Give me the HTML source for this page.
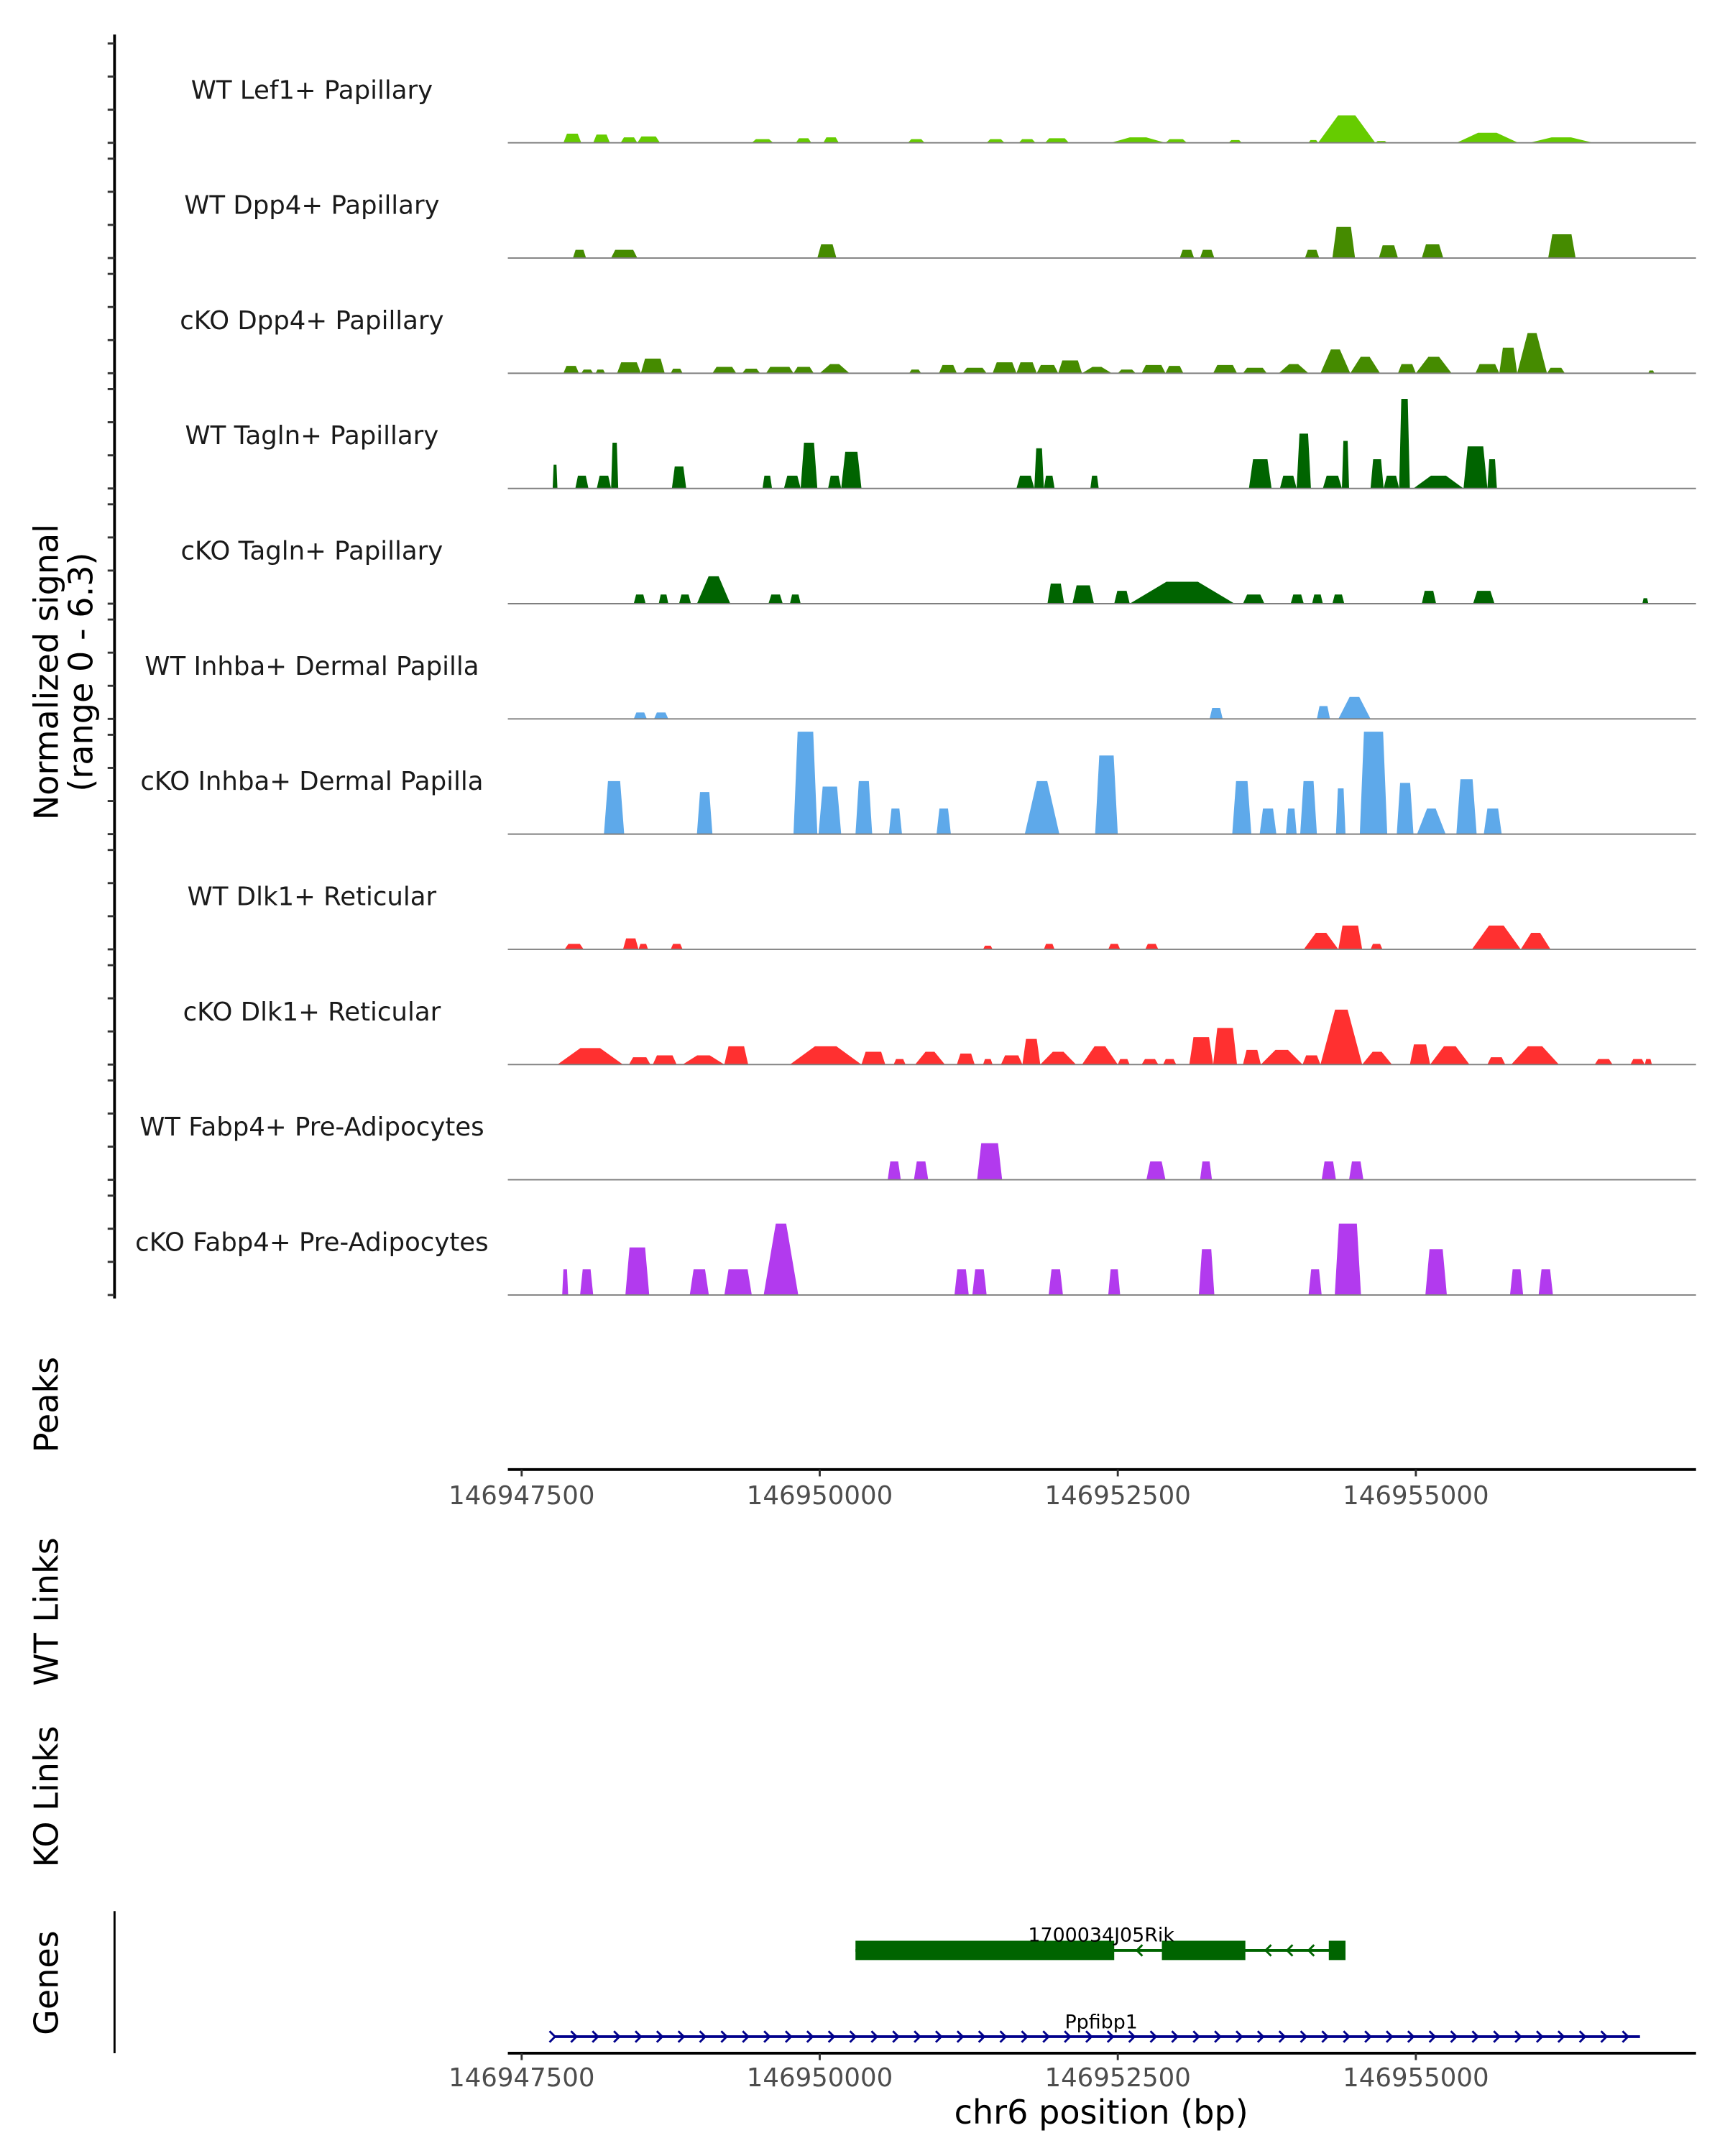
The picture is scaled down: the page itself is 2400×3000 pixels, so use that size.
<!DOCTYPE html>
<html><head><meta charset="utf-8"><style>
html,body{margin:0;padding:0;background:#fff;}
svg{display:block;font-family:"DejaVu Sans","Liberation Sans",sans-serif;}
</style></head><body>
<svg id="chart" width="2400" height="3000" viewBox="0 0 1250 1562.5" xmlns="http://www.w3.org/2000/svg">
<g id="tracks"></g>
<g id="yaxis"></g>
<text transform="translate(42,487) rotate(-90)" text-anchor="middle" font-size="24">Normalized signal</text>
<text transform="translate(67,487) rotate(-90)" text-anchor="middle" font-size="24">(range 0 - 6.3)</text>
<text transform="translate(42,1018) rotate(-90)" text-anchor="middle" font-size="24">Peaks</text>
<text transform="translate(42,1168) rotate(-90)" text-anchor="middle" font-size="24">WT Links</text>
<text transform="translate(42,1302) rotate(-90)" text-anchor="middle" font-size="24">KO Links</text>
<text transform="translate(42,1437) rotate(-90)" text-anchor="middle" font-size="24">Genes</text>
<line x1="83" y1="1385" x2="83" y2="1488" stroke="#000" stroke-width="1.5"/>
<g id="xaxes"></g>
<g id="genes"></g>
<text x="798" y="1539" text-anchor="middle" font-size="24">chr6 position (bp)</text>
</svg>
<script>
// data (positions in kb after 146940000; heights in normalized signal)
const trackNames = ["WT Lef1+ Papillary","WT Dpp4+ Papillary","cKO Dpp4+ Papillary","WT Tagln+ Papillary","cKO Tagln+ Papillary","WT Inhba+ Dermal Papilla","cKO Inhba+ Dermal Papilla","WT Dlk1+ Reticular","cKO Dlk1+ Reticular","WT Fabp4+ Pre-Adipocytes","cKO Fabp4+ Pre-Adipocytes"];
const trackColors = ["#66CC00","#458B00","#458B00","#006400","#006400","#5EA9EA","#5EA9EA","#FF3030","#FF3030","#B23AEE","#B23AEE"];
const lef1WT = [[7.85,8.00,0.5],[8.10,8.24,0.45],[8.33,8.47,0.3],[8.47,8.66,0.35],[9.43,9.61,0.2],[9.80,9.93,0.25],[10.03,10.16,0.3],[10.74,10.88,0.2],[11.40,11.55,0.2],[11.67,11.81,0.2],[11.89,12.09,0.25],[12.44,12.90,0.3],[12.90,13.08,0.2],[13.43,13.54,0.15],[14.10,14.18,0.15],[14.18,14.66,1.5],[14.66,14.76,0.1],[15.34,15.86,0.55],[15.95,16.49,0.3]];
const dpp4WT = [[7.93,8.04,0.45],[8.25,8.47,0.45],[9.98,10.14,0.75],[13.02,13.14,0.45],[13.19,13.31,0.45],[14.07,14.19,0.45],[14.30,14.49,1.7],[14.69,14.85,0.7],[15.05,15.23,0.75],[16.11,16.34,1.3]];
const dpp4KO = [[7.85,7.98,0.4],[8.0,8.1,0.2],[8.12,8.2,0.2],[8.3,8.5,0.6],[8.5,8.7,0.8],[8.75,8.85,0.25],[9.1,9.3,0.35],[9.35,9.5,0.25],[9.55,9.78,0.35],[9.78,9.95,0.35],[10.0,10.25,0.5],[10.75,10.85,0.2],[11.0,11.15,0.45],[11.2,11.4,0.3],[11.45,11.65,0.6],[11.65,11.82,0.6],[11.82,12.0,0.45],[12.0,12.2,0.7],[12.2,12.45,0.35],[12.5,12.65,0.2],[12.7,12.9,0.45],[12.9,13.05,0.4],[13.3,13.5,0.45],[13.55,13.75,0.3],[13.85,14.1,0.5],[14.2,14.45,1.3],[14.45,14.7,0.9],[14.85,15.0,0.5],[15.0,15.3,0.9],[15.5,15.7,0.5],[15.7,15.85,1.4],[15.85,16.1,2.2],[16.1,16.25,0.3],[16.95,17.0,0.15]];
const taglnWT = [[7.76,7.80,1.3],[7.95,8.06,0.7],[8.13,8.25,0.7],[8.25,8.31,2.5],[8.76,8.88,1.2],[9.52,9.60,0.7],[9.70,9.84,0.7],[9.84,9.98,2.5],[10.07,10.18,0.7],[10.18,10.35,2.0],[11.65,11.80,0.7],[11.80,11.88,2.2],[11.88,11.97,0.7],[12.27,12.34,0.7],[13.60,13.79,1.6],[13.86,14.00,0.7],[14.00,14.12,3.0],[14.22,14.38,0.7],[14.38,14.44,2.6],[14.62,14.73,1.6],[14.73,14.86,0.7],[14.86,14.95,4.9],[14.98,15.40,0.7],[15.40,15.60,2.3],[15.60,15.68,1.6]];
const taglnKO = [[8.44,8.54,0.5],[8.65,8.73,0.5],[8.82,8.92,0.5],[8.97,9.25,1.5],[9.57,9.69,0.5],[9.75,9.84,0.5],[11.91,12.05,1.1],[12.12,12.30,1.0],[12.47,12.60,0.7],[12.60,13.48,1.2],[13.55,13.73,0.5],[13.95,14.06,0.5],[14.13,14.22,0.5],[14.30,14.40,0.5],[15.05,15.17,0.7],[15.48,15.66,0.7],[16.90,16.95,0.3]];
const inhbaWT = [[8.44,8.55,0.35],[8.61,8.73,0.35],[13.27,13.38,0.6],[14.17,14.28,0.7],[14.35,14.62,1.2]];
const inhbaKO = [[8.19,8.36,2.9],[8.97,9.10,2.3],[9.78,9.98,5.6],[9.99,10.18,2.6],[10.30,10.44,2.9],[10.58,10.69,1.4],[10.98,11.10,1.4],[11.72,12.01,2.9],[12.31,12.50,4.3],[13.46,13.62,2.9],[13.69,13.83,1.4],[13.91,14.00,1.4],[14.03,14.17,2.9],[14.33,14.41,2.5],[14.53,14.76,5.6],[14.84,14.98,2.8],[15.01,15.25,1.4],[15.34,15.51,3.0],[15.57,15.72,1.4]];
const dlk1WT = [[7.86,8.02,0.3],[8.35,8.48,0.6],[8.48,8.56,0.3],[8.75,8.85,0.3],[11.37,11.45,0.2],[11.88,11.97,0.3],[12.42,12.52,0.3],[12.73,12.84,0.3],[14.06,14.35,0.9],[14.35,14.55,1.3],[14.62,14.72,0.3],[15.47,15.88,1.3],[15.88,16.13,0.9]];
const dlk1KO = [[7.8,8.35,0.9],[8.4,8.58,0.4],[8.6,8.8,0.5],[8.85,9.2,0.5],[9.2,9.4,1.0],[9.75,10.35,1.0],[10.35,10.55,0.7],[10.62,10.72,0.3],[10.80,11.05,0.7],[11.15,11.3,0.6],[11.37,11.45,0.3],[11.52,11.7,0.5],[11.7,11.85,1.4],[11.85,12.15,0.7],[12.2,12.5,1.0],[12.5,12.6,0.3],[12.7,12.84,0.3],[12.88,12.99,0.3],[13.1,13.3,1.5],[13.3,13.5,2.0],[13.55,13.7,0.8],[13.7,14.05,0.8],[14.05,14.2,0.5],[14.2,14.55,3.0],[14.55,14.8,0.7],[14.95,15.12,1.1],[15.12,15.45,1.0],[15.6,15.75,0.4],[15.8,16.2,1.0],[16.5,16.65,0.3],[16.8,16.92,0.3],[16.92,16.98,0.3]];
const fabp4WT = [[10.57,10.68,1.0],[10.79,10.91,1.0],[11.32,11.53,2.0],[12.74,12.90,1.0],[13.19,13.29,1.0],[14.21,14.33,1.0],[14.44,14.56,1.0]];
const fabp4KO = [[7.84,7.89,1.4],[7.99,8.10,1.4],[8.37,8.57,2.6],[8.91,9.07,1.4],[9.20,9.43,1.4],[9.53,9.82,3.9],[11.13,11.25,1.4],[11.28,11.40,1.4],[11.92,12.04,1.4],[12.42,12.52,1.4],[13.18,13.31,2.5],[14.10,14.21,1.4],[14.32,14.54,3.9],[15.08,15.26,2.5],[15.79,15.90,1.4],[16.03,16.15,1.4]];
const trackData = [lef1WT,dpp4WT,dpp4KO,taglnWT,taglnKO,inhbaWT,inhbaKO,dlk1WT,dlk1KO,fabp4WT,fabp4KO];
const xTicks = [146947500,146950000,146952500,146955000];
const geneRik = [[10.30,12.47],[12.87,13.57],[14.27,14.41]];
const geneRikSpan = [10.30,14.41];
const genePpf = [7.78,16.88];
const maxSignal = 6.3;

const NS="http://www.w3.org/2000/svg";
const BASE=146940000;
const X0=368,X1=1229,BP0=146947384,BP1=146957350;
function xs(bp){return X0+(bp-BP0)/(BP1-BP0)*(X1-X0);}
function xk(kb){return xs(BASE+kb*1000);}
const TRACK_H=83.5, FIRST_BASE=103.5;
function baseY(i){return FIRST_BASE+i*TRACK_H;}
function ys(v,i){return baseY(i)-v/maxSignal*TRACK_H;}
function mk(tag,attrs,parent){const e=document.createElementNS(NS,tag);for(const k in attrs)e.setAttribute(k,attrs[k]);parent.appendChild(e);return e;}

const tg=document.getElementById('tracks');
trackData.forEach((peaks,i)=>{
  const g=mk('g',{},tg);
  
  
  const lab=mk('text',{x:226,y:baseY(i)-32,'text-anchor':'middle','font-size':18.5,fill:'#1a1a1a'},g);
  lab.textContent=trackNames[i];
  
  
  peaks.forEach(p=>{
    const a=xk(p[0]),b=xk(p[1]),w=b-a,y0=baseY(i),y1=ys(p[2],i);
    const r=w>20?w*0.35:Math.min(w*0.2,3);
    const pg=mk('polygon',{points:`${a},${y0} ${a+r},${y1} ${b-r},${y1} ${b},${y0}`,fill:trackColors[i]},g);
    
    
  });
  const bl=mk('line',{x1:X0,x2:X1,y1:baseY(i),y2:baseY(i),stroke:'#7f7f7f','stroke-width':1},g);
  
  
});

const ya=document.getElementById('yaxis');
const al=mk('line',{x1:83,x2:83,y1:25,y2:941,stroke:'#000','stroke-width':2},ya);


for(let i=0;i<trackData.length;i++){
  for(let k=0;k<4;k++){
    const y=baseY(i)-k*24;
    const t=mk('line',{x1:78,x2:83,y1:y,y2:y,stroke:'#333','stroke-width':1.5},ya);
    
    
  }
}

const xa=document.getElementById('xaxes');
[[1065,1090],[1488,1512]].forEach(([ly,ty],j)=>{
  const l=mk('line',{x1:X0,x2:X1,y1:ly,y2:ly,stroke:'#000','stroke-width':2},xa);
  
  
  xTicks.forEach(v=>{
    const t=mk('line',{x1:xs(v),x2:xs(v),y1:ly,y2:ly+5,stroke:'#333','stroke-width':1.5},xa);
    
    
    const tx=mk('text',{x:xs(v),y:ty,'text-anchor':'middle','font-size':18.5,fill:'#4d4d4d'},xa);
    tx.textContent=String(v);
    
    
  });
});

const gg=document.getElementById('genes');
const gy=1413.5;
const rl=mk('line',{x1:xk(geneRikSpan[0]),x2:xk(geneRikSpan[1]),y1:gy,y2:gy,stroke:'#006400','stroke-width':2},gg);


geneRik.forEach(e=>{
  const r=mk('rect',{x:xk(e[0]),y:gy-7,width:xk(e[1])-xk(e[0]),height:14,fill:'#006400'},gg);
  
  
});
for(let kb=geneRikSpan[0]+0.2;kb<geneRikSpan[1];kb+=0.18){
  if(geneRik.some(e=>kb>=e[0]-0.05&&kb<=e[1]+0.05))continue;
  const x=xk(kb);
  const a=mk('polyline',{points:`${x+4},${gy-4} ${x},${gy} ${x+4},${gy+4}`,fill:'none',stroke:'#006400','stroke-width':1.5},gg);
  
  
}
const rt=mk('text',{x:798,y:1407,'text-anchor':'middle','font-size':14},gg);
rt.textContent='1700034J05Rik';


const py=1476;
const pl=mk('line',{x1:xk(genePpf[0]),x2:xk(genePpf[1]),y1:py,y2:py,stroke:'#00008B','stroke-width':2},gg);


for(let kb=genePpf[0];kb<=genePpf[1]+0.01;kb+=0.18){
  const x=xk(kb);
  const a=mk('polyline',{points:`${x-4},${py-4} ${x},${py} ${x-4},${py+4}`,fill:'none',stroke:'#00008B','stroke-width':1.5},gg);
  
  
}
const pt=mk('text',{x:798,y:1470,'text-anchor':'middle','font-size':14},gg);
pt.textContent='Ppfibp1';


</script>
</body></html>
